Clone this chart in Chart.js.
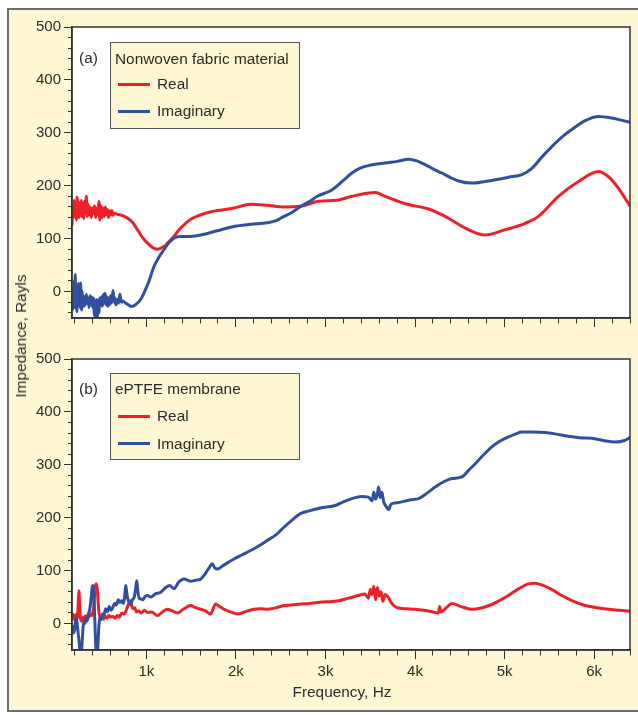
<!DOCTYPE html>
<html><head><meta charset="utf-8">
<script src="https://cdn.jsdelivr.net/npm/chart.js@4"></script>
<style>
html,body{margin:0;padding:0;width:638px;height:715px;overflow:hidden;background:#fff;font-family:"Liberation Sans",Arial,sans-serif;color:#2b2b2b}
#frame{position:absolute;left:7px;top:8px;width:700px;height:704px;box-sizing:border-box;border:2px solid #6e6e6e;background:#fef7d4}
canvas{position:absolute;left:0}
.t{position:absolute;font-size:15.4px;line-height:18px;white-space:nowrap;color:#2b2b2b}
.leg{position:absolute;box-sizing:border-box;border:1.5px solid #555;background:#fef7d4}
.sw{position:absolute;height:3px;width:32px}
</style></head><body>
<div id="frame"></div>
<canvas id="ca" width="638" height="340" style="top:0px"></canvas>
<canvas id="cb" width="638" height="375" style="top:340px"></canvas>

<div class="leg" style="left:110px;top:42px;width:190px;height:87px"></div>
<div class="t" style="left:79px;top:49px">(a)</div>
<div class="t" style="left:115px;top:50px">Nonwoven fabric material</div>
<div class="sw" style="left:118px;top:83px;background:#ee2026"></div>
<div class="t" style="left:157px;top:75px">Real</div>
<div class="sw" style="left:118px;top:110px;background:#30509f"></div>
<div class="t" style="left:157px;top:102px">Imaginary</div>

<div class="leg" style="left:110px;top:373px;width:190px;height:87px"></div>
<div class="t" style="left:79px;top:380px">(b)</div>
<div class="t" style="left:115px;top:380px">ePTFE membrane</div>
<div class="sw" style="left:118px;top:415px;background:#ee2026"></div>
<div class="t" style="left:157px;top:407px">Real</div>
<div class="sw" style="left:118px;top:442px;background:#30509f"></div>
<div class="t" style="left:157px;top:435px">Imaginary</div>

<div class="t" style="left:21px;top:336px;transform:translate(-50%,-50%) rotate(-90deg)">Impedance, Rayls</div>
<div class="t" style="left:342px;top:683px;transform:translateX(-50%)">Frequency, Hz</div>

<script>
// ---------- data (frequency Hz, impedance Rayls) ----------
const aReal = [[170,125],[178,165],[186,140],[194,172],[202,148],[210,162],[218,135],[226,178],[234,150],[242,170],[250,140],[258,165],[266,150],[274,172],[282,142],[290,160],[300,138],[310,170],[320,148],[330,180],[340,142],[350,165],[362,145],[374,160],[386,140],[398,158],[410,148],[422,162],[434,140],[446,158],[458,145],[470,170],[482,135],[494,162],[506,140],[518,158],[530,142],[542,160],[554,145],[566,155],[578,140],[590,152],[602,145],[614,153],[626,144],[640,148],[680,146],[730,144],[788,139],[850,130],[900,117],[950,104],[1011,92],[1070,83],[1123,80],[1196,85],[1250,94],[1308,104],[1360,116],[1420,126],[1500,137],[1606,145],[1700,150],[1792,153],[1978,158],[2165,165],[2350,163],[2536,160],[2722,161],[2908,170],[3146,173],[3295,180],[3556,187],[3667,180],[3891,166],[4151,156],[4337,142],[4560,120],[4783,107],[5007,117],[5230,129],[5378,142],[5601,180],[5825,208],[6048,227],[6160,217],[6272,195],[6403,161]];

const aImag = [[170,-10],[176,-35],[182,5],[188,-25],[194,20],[200,-30],[206,32],[212,-20],[218,10],[224,-38],[230,-5],[236,-25],[242,15],[248,-20],[254,5],[260,-30],[266,16],[272,-15],[278,-35],[284,0],[290,-20],[298,-8],[306,-28],[314,-10],[322,-25],[330,-5],[340,-22],[350,-12],[360,-30],[370,-8],[380,-25],[390,-10],[400,-30],[410,-12],[420,-45],[428,-20],[436,-52],[444,-15],[452,-50],[460,-18],[470,-40],[480,-12],[490,-25],[500,-10],[510,-28],[520,-5],[530,-22],[540,-3],[550,-25],[560,-10],[570,-28],[580,-12],[590,-25],[600,-8],[610,-22],[620,-10],[630,2],[640,-20],[650,-12],[660,-25],[675,-15],[690,-22],[705,-5],[720,-20],[740,-18],[770,-22],[800,-25],[825,-28],[860,-27],[900,-22],[940,-14],[973,-3],[1030,20],[1085,47],[1140,65],[1196,79],[1250,92],[1308,101],[1380,104],[1457,104],[1606,107],[1792,115],[1978,123],[2165,127],[2350,130],[2450,134],[2536,142],[2630,150],[2722,161],[2820,170],[2908,180],[3072,192],[3200,210],[3295,224],[3400,234],[3481,238],[3667,243],[3800,246],[3927,250],[4020,247],[4113,240],[4200,232],[4299,224],[4400,215],[4485,209],[4634,205],[4857,210],[5043,216],[5192,221],[5304,233],[5420,255],[5527,274],[5640,292],[5750,306],[5899,323],[6048,331],[6197,328],[6300,324],[6403,320]];

const bReal = [[170,12],[180,18],[190,8],[200,15],[210,5],[220,18],[230,10],[240,40],[247,62],[255,35],[265,10],[275,5],[285,5],[295,12],[305,8],[315,14],[325,10],[340,15],[355,12],[370,18],[385,15],[400,20],[412,30],[422,55],[432,72],[442,75],[452,65],[462,40],[472,20],[482,12],[492,9],[505,12],[520,8],[540,14],[560,10],[580,15],[600,12],[625,14],[650,10],[675,15],[700,12],[725,20],[750,18],[775,25],[790,32],[805,38],[820,43],[835,35],[850,28],[870,30],[890,22],[915,24],[940,20],[980,25],[1011,21],[1060,22],[1123,15],[1180,22],[1234,27],[1290,24],[1346,20],[1420,28],[1494,34],[1550,30],[1606,27],[1660,24],[1717,18],[1773,37],[1820,32],[1866,27],[1940,22],[2016,18],[2100,22],[2201,27],[2280,28],[2350,27],[2450,30],[2536,34],[2620,35],[2722,37],[2820,38],[2908,40],[3020,41],[3146,43],[3260,48],[3369,53],[3440,56],[3480,48],[3500,65],[3518,55],[3540,70],[3560,45],[3580,68],[3600,52],[3620,60],[3640,42],[3667,55],[3700,50],[3740,38],[3797,30],[3900,28],[4002,27],[4100,25],[4200,22],[4262,20],[4275,32],[4290,22],[4350,30],[4411,38],[4500,33],[4634,27],[4750,30],[4857,36],[4950,44],[5043,53],[5150,65],[5267,75],[5340,76],[5415,73],[5530,64],[5639,53],[5770,42],[5899,34],[6030,30],[6160,27],[6280,25],[6403,23]];

const bImag = [[170,-12],[180,-5],[190,-18],[200,-10],[210,5],[220,11],[230,-5],[240,-20],[250,-35],[262,-55],[275,-55],[285,-30],[295,-5],[305,5],[315,0],[325,10],[335,5],[345,8],[355,20],[365,24],[375,35],[385,50],[395,68],[405,72],[412,60],[420,30],[428,-10],[436,-45],[444,-55],[452,-55],[460,-40],[468,-10],[476,5],[484,11],[495,8],[510,18],[525,15],[545,28],[565,22],[585,32],[605,25],[625,30],[645,38],[665,35],[685,45],[705,40],[725,43],[745,38],[760,55],[770,72],[780,60],[795,45],[810,40],[825,36],[845,45],[865,50],[880,65],[893,81],[905,62],[920,48],[936,47],[960,45],[990,52],[1011,53],[1050,50],[1100,56],[1160,59],[1215,68],[1260,72],[1308,66],[1360,78],[1420,84],[1500,80],[1550,82],[1606,84],[1660,95],[1700,105],[1737,113],[1760,106],[1792,103],[1860,110],[1978,122],[2070,130],[2165,138],[2250,146],[2350,157],[2450,168],[2536,182],[2630,196],[2722,208],[2820,213],[2908,217],[3000,220],[3109,223],[3200,230],[3295,236],[3400,240],[3481,239],[3520,232],[3540,248],[3560,235],[3580,245],[3593,258],[3610,238],[3630,248],[3650,230],[3675,222],[3705,215],[3730,225],[3780,228],[3853,230],[3950,234],[4039,236],[4130,246],[4225,258],[4320,268],[4411,274],[4523,277],[4600,290],[4672,302],[4760,318],[4857,334],[4950,345],[5043,353],[5120,358],[5192,362],[5300,362],[5453,361],[5580,358],[5713,354],[5840,351],[5974,350],[6100,346],[6234,343],[6340,346],[6403,352]];

// ---------- axes ----------
const xRange = [170, 6400];
const yRange = [-50, 500];
const xMinorStep = 200, xMajorStep = 1000;
const yMinorStep = 20, yMajorStep = 100;
const xTickLabels = {1000:'1k',2000:'2k',3000:'3k',4000:'4k',5000:'5k',6000:'6k'};

const RED = '#ee2026', BLUE = '#30509f', INK = '#2b2b2b', AX = '#333';
const FONT = {family:'"Liberation Sans", Arial, sans-serif', size:15};

function stepTicks(lo, hi, step){
  const out=[]; const start=Math.ceil(lo/step)*step;
  for(let v=start; v<=hi+1e-9; v+=step) out.push({value:v});
  return out;
}

const framePlugin = {
  id:'frame',
  beforeDraw(chart){
    const {ctx, chartArea:a} = chart;
    ctx.save(); ctx.fillStyle='#ffffff';
    ctx.fillRect(a.left, a.top, a.right-a.left, a.bottom-a.top); ctx.restore();
  },
  afterDraw(chart){
    const {ctx, chartArea:a} = chart;
    ctx.save(); ctx.strokeStyle=AX; ctx.lineWidth=1.5;
    ctx.strokeRect(a.left, a.top, a.right-a.left, a.bottom-a.top); ctx.restore();
  }
};

function makeChart(id, real, imag, padTop, xHeight, showXLabels){
  const toXY = arr => arr.map(p => ({x:p[0], y:p[1]}));
  return new Chart(document.getElementById(id), {
    type:'line',
    data:{datasets:[
      {label:'Imaginary', data:toXY(imag), borderColor:BLUE, borderWidth:3, pointRadius:0, cubicInterpolationMode:'monotone', fill:false},
      {label:'Real', data:toXY(real), borderColor:RED, borderWidth:3, pointRadius:0, cubicInterpolationMode:'monotone', fill:false}
    ]},
    options:{
      responsive:false, animation:false, devicePixelRatio:1,
      layout:{padding:{top:padTop, right:8, left:0, bottom:0}},
      plugins:{legend:{display:false}, tooltip:{enabled:false}},
      events:[],
      scales:{
        x:{
          type:'linear', min:xRange[0], max:xRange[1], position:'bottom',
          afterBuildTicks: s => { s.ticks = stepTicks(xRange[0], xRange[1], xMinorStep); },
          afterFit: s => { s.height = xHeight; },
          ticks:{autoSkip:false, maxRotation:0, padding:4, color:INK, font:FONT,
            callback: v => showXLabels && xTickLabels[v] ? xTickLabels[v] : ''},
          grid:{drawOnChartArea:false, drawTicks:true, tickLength:9, tickColor:AX, tickWidth:1,
            tickBorderDash: c => (c.tick && c.tick.value % xMajorStep === 0) ? [] : [5, 100]},
          border:{display:true, color:AX, width:1.5}
        },
        y:{
          type:'linear', min:yRange[0], max:yRange[1], position:'left',
          afterBuildTicks: s => { s.ticks = stepTicks(yRange[0], yRange[1], yMinorStep); },
          afterFit: s => { s.width = 72; },
          ticks:{autoSkip:false, padding:3, color:INK, font:FONT,
            callback: v => (v % yMajorStep === 0 ? String(v) : '')},
          grid:{drawOnChartArea:false, drawTicks:true, tickLength:8, tickColor:AX, tickWidth:1,
            tickBorderDash: c => (c.tick && c.tick.value % yMajorStep === 0) ? [] : [0, 4, 4, 100]},
          border:{display:true, color:AX, width:1.5}
        }
      }
    },
    plugins:[framePlugin]
  });
}

makeChart('ca', aReal, aImag, 27, 22, false);
makeChart('cb', bReal, bImag, 19, 65, true);
</script>
</body></html>
